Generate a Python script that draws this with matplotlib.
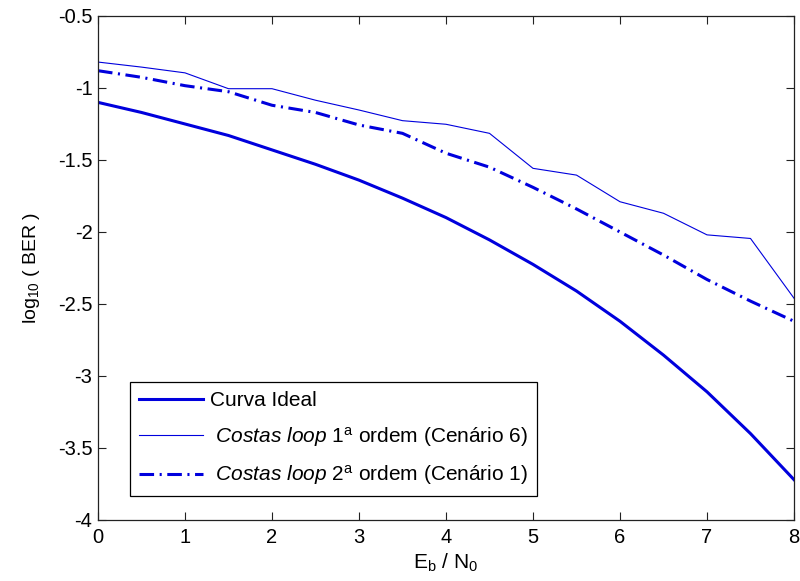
import matplotlib
matplotlib.use("Agg")
import matplotlib.pyplot as plt

plt.rcParams["font.family"] = ["Liberation Sans", "DejaVu Sans"]
plt.rcParams["mathtext.fontset"] = "custom"
plt.rcParams["mathtext.rm"] = "Liberation Sans"
plt.rcParams["mathtext.it"] = "Liberation Sans:italic"
plt.rcParams["lines.scale_dashes"] = False

# Eb/N0 (dB) grid
ebn0 = [0, 0.5, 1, 1.5, 2, 2.5, 3, 3.5, 4, 4.5, 5, 5.5, 6, 6.5, 7, 7.5, 8]

# log10(BER) curves
ber_ideal = [-1.10, -1.17, -1.25, -1.33, -1.43, -1.53, -1.64, -1.765, -1.90,
             -2.055, -2.225, -2.41, -2.62, -2.855, -3.11, -3.40, -3.72]
ber_costas1 = [-0.82, -0.855, -0.895, -1.005, -1.005, -1.085, -1.153, -1.227,
               -1.252, -1.315, -1.558, -1.605, -1.79, -1.87, -2.02, -2.045, -2.46]
ber_costas2 = [-0.88, -0.926, -0.984, -1.026, -1.12, -1.17, -1.257, -1.315,
               -1.453, -1.55, -1.69, -1.84, -2.0, -2.16, -2.33, -2.48, -2.62]

labels = [
    "Curva Ideal",
    r" $\mathit{Costas\ loop}$ 1$^{\mathrm{a}}$ ordem (Cenário 6)",
    r" $\mathit{Costas\ loop}$ 2$^{\mathrm{a}}$ ordem (Cenário 1)",
]

fig = plt.figure(figsize=(8.0, 5.81), dpi=100)
ax = fig.add_axes([0.1225, 0.105, 0.87, 0.8675])

blue = "#0000dd"
ax.plot(ebn0, ber_ideal, color=blue, lw=2.2, label=labels[0])
ax.plot(ebn0, ber_costas1, color=blue, lw=0.8, label=labels[1])
ax.plot(ebn0, ber_costas2, color=blue, lw=2.2, dashes=[10.5, 4, 1.5, 4],
        label=labels[2])

ax.set_xlim(0, 8)
ax.set_ylim(-4, -0.5)
ax.set_xticks(range(0, 9))
ax.set_yticks([-4, -3.5, -3, -2.5, -2, -1.5, -1, -0.5])
ax.set_yticklabels(["-4", "-3.5", "-3", "-2.5", "-2", "-1.5", "-1", "-0.5"])
ax.tick_params(direction="in", top=True, right=True, length=6, width=0.8,
               labelsize=14.5, colors="#222222", labelcolor="black")
ax.tick_params(axis="y", pad=4)
ax.tick_params(axis="x", pad=6)
for s in ax.spines.values():
    s.set_linewidth(0.9)
    s.set_color("#222222")

ax.set_xlabel(r"E$_{\mathrm{b}}$ / N$_{0}$", fontsize=15)
ax.set_ylabel(r"log$_{10}$ ( BER )", fontsize=14)
ax.xaxis.set_label_coords(0.5, -0.062)
ax.yaxis.set_label_coords(-0.08, 0.5)

leg = ax.legend(loc="lower left", bbox_to_anchor=(0.046, 0.0476),
                borderaxespad=0, fontsize=15, handlelength=3.1,
                handletextpad=0.3, labelspacing=0.7, borderpad=0.42,
                fancybox=False, framealpha=1, edgecolor="black")
leg.get_frame().set_linewidth(0.9)

fig.savefig("out.png", dpi=100)
